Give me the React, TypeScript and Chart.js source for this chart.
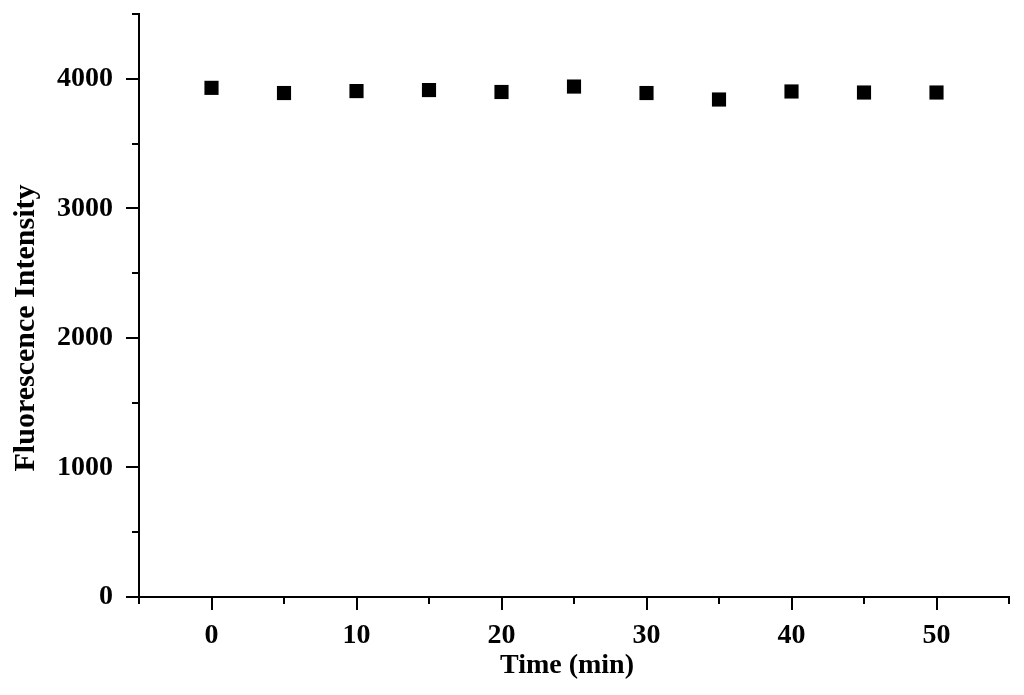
import React, { useEffect, useRef } from "react";
import { Chart, registerables } from "chart.js";

Chart.register(...registerables);

const timeMin = [0, 5, 10, 15, 20, 25, 30, 35, 40, 45, 50];
const intensity = [3930, 3890, 3905, 3913, 3898, 3940, 3890, 3840, 3902, 3894, 3894];
const xMajorTicks = [0, 10, 20, 30, 40, 50];
const yMajorTicks = [0, 1000, 2000, 3000, 4000];
const xRange = [-5, 55];
const yRange = [0, 4500];
const xMinorStep = 5;
const yMinorStep = 500;

const FONT = "'Liberation Serif', 'Times New Roman', serif";

const tickPlugin = {
  id: "customTicks",
  afterDraw(chart: any) {
    const ctx = chart.ctx;
    const area = chart.chartArea;
    const xs = chart.scales.x;
    const ys = chart.scales.y;
    ctx.save();
    ctx.strokeStyle = "#000";
    ctx.lineWidth = 2;
    xs.ticks.forEach((t: any) => {
      const major = xMajorTicks.includes(t.value);
      const len = major ? 13 : 7;
      const px = Math.round(xs.getPixelForValue(t.value));
      ctx.beginPath();
      ctx.moveTo(px, area.bottom);
      ctx.lineTo(px, area.bottom + len);
      ctx.stroke();
    });
    ys.ticks.forEach((t: any) => {
      const major = yMajorTicks.includes(t.value);
      const len = major ? 13 : 7;
      const py = Math.round(ys.getPixelForValue(t.value));
      ctx.beginPath();
      ctx.moveTo(area.left, py);
      ctx.lineTo(area.left - len, py);
      ctx.stroke();
    });
    ctx.restore();
  },
};

const zeroPadding = (scale: any) => {
  scale.paddingTop = 0;
  scale.paddingBottom = 0;
  scale.paddingLeft = 0;
  scale.paddingRight = 0;
};

export default function App() {
  const ref = useRef<HTMLCanvasElement>(null);
  useEffect(() => {
    if (!ref.current) return;
    const chart = new Chart(ref.current, {
      type: "scatter",
      data: {
        datasets: [
          {
            data: timeMin.map((x, i) => ({ x, y: intensity[i] })),
            pointStyle: "rect",
            pointRadius: 10,
            pointHoverRadius: 10,
            backgroundColor: "#000",
            borderColor: "#000",
            borderWidth: 0,
            showLine: false,
          },
        ],
      },
      options: {
        responsive: false,
        maintainAspectRatio: false,
        animation: false,
        layout: { padding: { left: 0, top: 14, right: 15, bottom: 0 } },
        plugins: { legend: { display: false }, tooltip: { enabled: false } },
        scales: {
          x: {
            type: "linear",
            min: xRange[0],
            max: xRange[1],
            afterBuildTicks: (scale: any) => {
              const ticks = [];
              for (let v = xRange[0]; v <= xRange[1]; v += xMinorStep) ticks.push({ value: v });
              scale.ticks = ticks;
            },
            afterFit: (scale: any) => {
              scale.height = 98;
              zeroPadding(scale);
            },
            grid: { display: true, drawOnChartArea: false, drawTicks: false, color: "rgba(0,0,0,0)" },
            border: { display: true, color: "#000", width: 2 },
            ticks: {
              autoSkip: false,
              maxRotation: 0,
              padding: 22,
              color: "#000",
              font: { family: FONT, size: 28, weight: "bold" },
              callback: (v: any) => (xMajorTicks.includes(v) ? String(v) : ""),
            },
            title: {
              display: true,
              text: "Time (min)  ",
              color: "#000",
              font: { family: FONT, size: 28, weight: "bold" },
              padding: { top: 0, bottom: 12 },
            },
          },
          y: {
            type: "linear",
            min: yRange[0],
            max: yRange[1],
            afterBuildTicks: (scale: any) => {
              const ticks = [];
              for (let v = yRange[0]; v <= yRange[1]; v += yMinorStep) ticks.push({ value: v });
              scale.ticks = ticks;
            },
            afterFit: (scale: any) => {
              scale.width = 139;
              zeroPadding(scale);
            },
            grid: { display: true, drawOnChartArea: false, drawTicks: false, color: "rgba(0,0,0,0)" },
            border: { display: true, color: "#000", width: 2 },
            ticks: {
              autoSkip: false,
              padding: 26,
              color: "#000",
              font: { family: FONT, size: 28, weight: "bold" },
              callback: (v: any) => (yMajorTicks.includes(v) ? String(v) : ""),
            },
            title: {
              display: true,
              text: "Fluorescence Intensity      ",
              color: "#000",
              font: { family: FONT, size: 30, weight: "bold" },
              padding: { top: 8, bottom: 0 },
            },
          },
        },
      },
      plugins: [tickPlugin],
    });
    return () => chart.destroy();
  }, []);
  return (
    <div style={{ position: "fixed", left: 0, top: 0, width: 1024, height: 695, background: "#fff" }}>
      <canvas ref={ref} width={1024} height={695} style={{ display: "block" }} />
    </div>
  );
}
